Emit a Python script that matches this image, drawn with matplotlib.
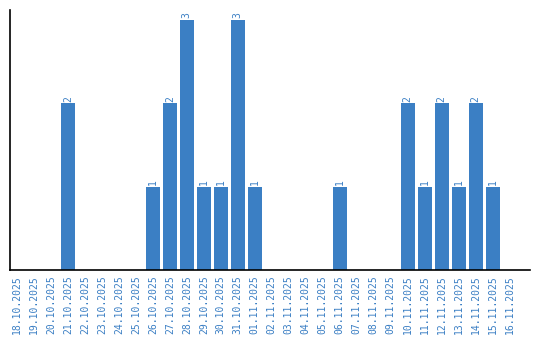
import matplotlib
matplotlib.use("Agg")
import matplotlib.pyplot as plt

dates = ["18.10.2025", "19.10.2025", "20.10.2025", "21.10.2025", "22.10.2025",
         "23.10.2025", "24.10.2025", "25.10.2025", "26.10.2025", "27.10.2025",
         "28.10.2025", "29.10.2025", "30.10.2025", "31.10.2025", "01.11.2025",
         "02.11.2025", "03.11.2025", "04.11.2025", "05.11.2025", "06.11.2025",
         "07.11.2025", "08.11.2025", "09.11.2025", "10.11.2025", "11.11.2025",
         "12.11.2025", "13.11.2025", "14.11.2025", "15.11.2025", "16.11.2025"]
values = [0, 0, 0, 2, 0, 0, 0, 0, 1, 2, 3, 1, 1, 3, 1,
          0, 0, 0, 0, 1, 0, 0, 0, 2, 1, 2, 1, 2, 1, 0]

color = "#3b7fc4"
font = "DejaVu Sans Mono"
fig = plt.figure(figsize=(5.4, 3.4), dpi=100)
ax = fig.add_axes([10/540, 1-270/340, 520/540, 260/340])
x = list(range(len(dates)))
bars = ax.bar(x, values, width=0.82, color=color)
for xi, v in zip(x, values):
    if v > 0:
        ax.text(xi, v + 0.02, str(v), rotation=90, ha="center", va="bottom",
                color=color, fontsize=7, family=font)
ax.set_xlim(-0.41, 30.2)
ax.set_ylim(0, 3.12)
ax.set_xticks(x)
ax.set_xticklabels(dates, rotation=90, color=color, fontsize=7, family=font)
ax.tick_params(axis="x", length=0, pad=4)
ax.set_yticks([])
for s in ["top", "right"]:
    ax.spines[s].set_visible(False)
for s in ["left", "bottom"]:
    ax.spines[s].set_linewidth(1.2)
fig.savefig("out.png", dpi=100)
